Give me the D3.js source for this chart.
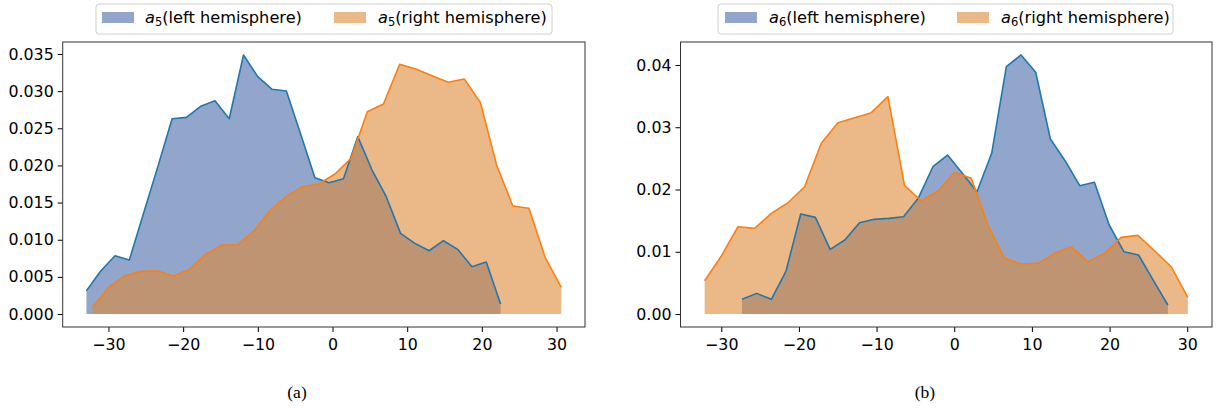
<!DOCTYPE html>
<html>
<head>
<meta charset="utf-8">
<script src="https://cdn.jsdelivr.net/npm/d3@7"></script>
<style>
  html, body { margin: 0; padding: 0; background: #fff; }
  svg { display: block; }
  .tick text { font-family: "DejaVu Sans", sans-serif; font-size: 15.8px; fill: #000; }
  .legend text { font-family: "DejaVu Sans", sans-serif; font-size: 16.2px; fill: #000; }
  .caption { font-family: "Liberation Serif", "Times New Roman", serif; font-size: 17.5px; fill: #000; }
</style>
</head>
<body>
<svg id="chart" width="1217" height="408"></svg>
<script>
// Panel (a): a5 distributions
const a5LeftX = [-32.95, -31.04, -29.13, -27.21, -25.30, -23.39, -21.48, -19.57, -17.65, -15.74,
                 -13.83, -11.92, -10.01, -8.09, -6.18, -4.27, -2.36, -0.45, 1.47, 3.38,
                 5.29, 7.20, 9.11, 11.03, 12.94, 14.85, 16.76, 18.67, 20.59, 22.50];
const a5LeftY = [0.00314, 0.00580, 0.00785, 0.00727, 0.01356, 0.01984, 0.02629, 0.02647, 0.02796, 0.02872,
                 0.02629, 0.03487, 0.03195, 0.03025, 0.03002, 0.02423, 0.01835, 0.01768, 0.01822, 0.02387,
                 0.01938, 0.01579, 0.01086, 0.00951, 0.00852, 0.00987, 0.00871, 0.00637, 0.00700, 0.00135];
const a5RightX = [-32.14, -29.98, -27.81, -25.65, -23.48, -21.32, -19.15, -16.99, -14.82, -12.66,
                  -10.49, -8.33, -6.17, -4.00, -1.84, 0.33, 2.49, 4.66, 6.82, 8.99,
                  11.15, 13.32, 15.48, 17.64, 19.81, 21.97, 24.14, 26.30, 28.47, 30.63];
const a5RightY = [0.00090, 0.00359, 0.00516, 0.00574, 0.00583, 0.00511, 0.00601, 0.00803, 0.00929, 0.00933,
                  0.01120, 0.01400, 0.01589, 0.01714, 0.01750, 0.01885, 0.02096, 0.02723, 0.02827, 0.03361,
                  0.03298, 0.03208, 0.03119, 0.03163, 0.02845, 0.02006, 0.01454, 0.01423, 0.00763, 0.00359];

// Panel (b): a6 distributions
const a6LeftX = [-27.33, -25.44, -23.55, -21.66, -19.77, -17.88, -15.98, -14.09, -12.20, -10.31,
                 -8.42, -6.53, -4.64, -2.75, -0.86, 1.04, 2.93, 4.82, 6.71, 8.60,
                 10.49, 12.38, 14.27, 16.16, 18.05, 19.95, 21.84, 23.73, 25.62, 27.51];
const a6LeftY = [0.00236, 0.00332, 0.00236, 0.00691, 0.01606, 0.01553, 0.01039, 0.01189, 0.01467, 0.01521,
                 0.01537, 0.01563, 0.01859, 0.02366, 0.02554, 0.02260, 0.01965, 0.02581, 0.03973, 0.04161,
                 0.03883, 0.02811, 0.02463, 0.02061, 0.02116, 0.01430, 0.01001, 0.00948, 0.00546, 0.00145];
const a6RightX = [-32.14, -29.99, -27.85, -25.70, -23.56, -21.41, -19.27, -17.12, -14.98, -12.83,
                  -10.69, -8.54, -6.40, -4.25, -2.10, 0.04, 2.19, 4.33, 6.48, 8.62,
                  10.77, 12.91, 15.06, 17.20, 19.35, 21.49, 23.64, 25.79, 27.93, 30.08];
const a6RightY = [0.00535, 0.00932, 0.01403, 0.01376, 0.01617, 0.01788, 0.02045, 0.02742, 0.03073, 0.03153,
                  0.03234, 0.03491, 0.02061, 0.01820, 0.01976, 0.02276, 0.02180, 0.01430, 0.00894, 0.00803,
                  0.00814, 0.00975, 0.01082, 0.00840, 0.00975, 0.01232, 0.01264, 0.01017, 0.00760, 0.00268];

const xTicks = [-30, -20, -10, 0, 10, 20, 30];
const yTicksA = [0, 0.005, 0.010, 0.015, 0.020, 0.025, 0.030, 0.035];
const yTicksB = [0, 0.01, 0.02, 0.03, 0.04];

const legendLabelsA = [["a", "5", "(left hemisphere)"], ["a", "5", "(right hemisphere)"]];
const legendLabelsB = [["a", "6", "(left hemisphere)"], ["a", "6", "(right hemisphere)"]];

const lineBlue = "#1f77b4", lineOrange = "#ff7f0e";
const fillBlue = "rgb(73,107,168)", fillOrange = "rgb(221,137,55)";
const fillAlpha = 0.6;

const svg = d3.select("#chart");

function withMargin(vals) {
  const [lo, hi] = d3.extent(vals);
  const m = (hi - lo) * 0.05;
  return [lo - m, hi + m];
}

function panel(opts) {
  const { left, right, top, bottom, series, yTicks, yFmt, legend, legendBox, caption, captionX } = opts;
  const allX = series.flatMap(s => s.x);
  const allY = series.flatMap(s => s.y).concat([0]);
  const x = d3.scaleLinear().domain(withMargin(allX)).range([left, right]);
  const y = d3.scaleLinear().domain(withMargin(allY)).range([bottom, top]);

  const g = svg.append("g");

  // filled areas first, outlines on top
  series.forEach(s => {
    const pts = s.x.map((d, i) => [d, s.y[i]]);
    g.append("path")
      .datum(pts)
      .attr("fill", s.fill)
      .attr("fill-opacity", fillAlpha)
      .attr("d", d3.area().x(d => x(d[0])).y0(y(0)).y1(d => y(d[1])));
  });
  series.forEach(s => {
    const pts = s.x.map((d, i) => [d, s.y[i]]);
    g.append("path")
      .datum(pts)
      .attr("fill", "none")
      .attr("stroke", s.line)
      .attr("stroke-width", 1.6)
      .attr("stroke-linejoin", "round")
      .attr("d", d3.line().x(d => x(d[0])).y(d => y(d[1])));
  });

  // axes
  const xAxis = d3.axisBottom(x).tickValues(xTicks).tickSize(5).tickPadding(4)
    .tickFormat(d => d < 0 ? "\u2212" + Math.abs(d) : String(d));
  const gx = g.append("g").attr("transform", `translate(0,${bottom})`).call(xAxis);
  gx.select(".domain").remove();
  gx.selectAll(".tick line").attr("stroke", "#000").attr("stroke-width", 1);
  gx.selectAll(".tick text").attr("dy", "0.88em");

  const yAxis = d3.axisLeft(y).tickValues(yTicks).tickSize(5).tickPadding(4).tickFormat(yFmt);
  const gy = g.append("g").attr("transform", `translate(${left},0)`).call(yAxis);
  gy.select(".domain").remove();
  gy.selectAll(".tick line").attr("stroke", "#000").attr("stroke-width", 1);
  gx.attr("font-family", null).attr("font-size", null);
  gy.attr("font-family", null).attr("font-size", null);

  // frame
  g.append("rect")
    .attr("x", left).attr("y", top)
    .attr("width", right - left).attr("height", bottom - top)
    .attr("fill", "none").attr("stroke", "#333").attr("stroke-width", 1);

  // legend
  const lg = g.append("g").attr("class", "legend");
  lg.append("rect")
    .attr("x", legendBox.x).attr("y", legendBox.y)
    .attr("width", legendBox.w).attr("height", legendBox.h)
    .attr("rx", 3).attr("ry", 3)
    .attr("fill", "#fff").attr("fill-opacity", 0.8)
    .attr("stroke", "#d0d0d0").attr("stroke-width", 1);
  legend.forEach((item, i) => {
    const s = series[i];
    lg.append("rect")
      .attr("x", item.px).attr("y", legendBox.y + 8)
      .attr("width", 32).attr("height", 11)
      .attr("fill", s.fill).attr("fill-opacity", fillAlpha);
    const t = lg.append("text").attr("x", item.tx).attr("y", legendBox.y + 19);
    t.append("tspan").attr("font-style", "italic").text(item.label[0]);
    t.append("tspan").attr("font-size", "11.5px").attr("dy", 3).text(item.label[1]);
    t.append("tspan").attr("dy", -3).text(item.label[2]);
  });

  svg.append("text").attr("class", "caption")
    .attr("x", captionX).attr("y", 398).attr("text-anchor", "middle").text(caption);
}

panel({
  left: 62.7, right: 585, top: 42, bottom: 327,
  series: [
    { x: a5LeftX, y: a5LeftY, fill: fillBlue, line: lineBlue },
    { x: a5RightX, y: a5RightY, fill: fillOrange, line: lineOrange }
  ],
  yTicks: yTicksA, yFmt: d3.format(".3f"),
  legendBox: { x: 96, y: 4, w: 456, h: 30 },
  legend: [
    { px: 102, tx: 145, label: legendLabelsA[0] },
    { px: 334, tx: 378, label: legendLabelsA[1] }
  ],
  caption: "(a)", captionX: 297
});

panel({
  left: 680.5, right: 1212, top: 42, bottom: 327,
  series: [
    { x: a6LeftX, y: a6LeftY, fill: fillBlue, line: lineBlue },
    { x: a6RightX, y: a6RightY, fill: fillOrange, line: lineOrange }
  ],
  yTicks: yTicksB, yFmt: d3.format(".2f"),
  legendBox: { x: 718, y: 4, w: 455, h: 30 },
  legend: [
    { px: 725, tx: 769, label: legendLabelsB[0] },
    { px: 957, tx: 1001, label: legendLabelsB[1] }
  ],
  caption: "(b)", captionX: 925
});
</script>
</body>
</html>
